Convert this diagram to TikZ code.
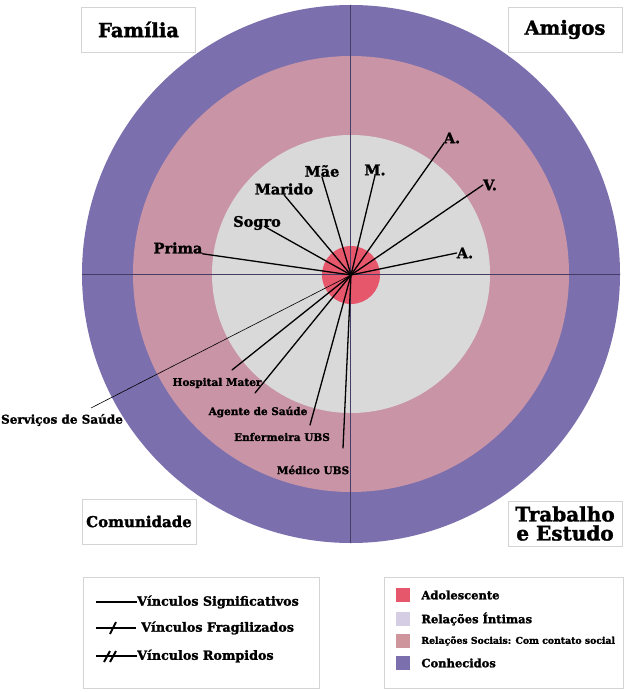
\documentclass[tikz,border=0pt]{standalone}
\usepackage{fontspec}
\setmainfont{DejaVu Serif}[BoldFeatures={FakeBold=1.6}]
\usetikzlibrary{positioning,calc}
\definecolor{conhec}{RGB}{123,111,174}
\definecolor{social}{RGB}{201,148,166}
\definecolor{intima}{RGB}{217,217,217}
\definecolor{adolesc}{RGB}{231,87,108}
\definecolor{intimaleg}{RGB}{212,205,228}
\definecolor{socialleg}{RGB}{206,150,156}
\definecolor{boxline}{RGB}{212,212,212}
\definecolor{axisline}{RGB}{70,60,100}

\begin{document}
\begin{tikzpicture}[x=1pt, y=-1pt,
    every node/.style={font=\bfseries},
    ring/.style={circle, inner sep=0pt, draw=none},
    zone/.style={rectangle, draw=boxline, fill=white, line width=0.8pt,
                 minimum width=114pt, minimum height=45pt, align=center,
                 font=\fontsize{19.5}{19}\selectfont\bfseries},
    pessoa/.style={inner sep=0pt, font=\fontsize{14.5}{16}\selectfont\bfseries},
    servico/.style={inner sep=0pt, font=\fontsize{10.5}{12}\selectfont\bfseries},
    vinc/.style={line width=1.3pt, line cap=round},
    fraco/.style={line width=0.6pt},
    eixo/.style={line width=0.6pt, draw=axisline},
    legbox/.style={rectangle, draw=boxline, fill=white, line width=0.8pt,
                   minimum height=111pt},
    legtxt/.style={inner sep=0pt, anchor=west, font=\fontsize{11.5}{13}\selectfont\bfseries},
    legline/.style={line width=2pt},
    swatch/.style={rectangle, inner sep=0pt, minimum size=14pt},
]

\useasboundingbox[fill=white] (0,0) rectangle (628,692);

% Circles
\node[ring, fill=conhec,  minimum size=538pt] (outer)  at (351,274) {};
\node[ring, fill=social,  minimum size=436pt] (middle) at (351,274) {};
\node[ring, fill=intima,  minimum size=278pt] (inner)  at (351,274) {};
\node[ring, fill=adolesc, minimum size=58pt]  (ego)    at (351,275) {};

\draw[eixo] (outer.west) -- (outer.east);
\draw[eixo] ([xshift=-1pt]outer.north) -- ([xshift=-1pt]outer.south);

% Quadrants
\node[zone] (familia)    at (138.5,29.5) {Família};
\node[zone] (amigos)     at (565,29.5)   {Amigos};
\node[zone, font=\fontsize{15}{17}\selectfont\bfseries] (comunidade) at (139,521.5) {Comunidade};
\node[zone, font=\fontsize{20}{19}\selectfont\bfseries] (trabalho)   at (565,523.5) {Trabalho\\e Estudo};

% People
\node[pessoa] (prima)  at (178,248) {Prima};
\node[pessoa] (sogro)  at (257,223) {Sogro};
\node[pessoa] (marido) at (284,189) {Marido};
\node[pessoa] (mae)    at (322,171) {Mãe};
\node[pessoa] (mtia)   at (375,170) {M.};
\node[pessoa] (amigoA) at (452,138) {A.};
\node[pessoa] (amigoV) at (490,185) {V.};
\node[pessoa] (amigoB) at (465,253) {A.};

\node[servico] (hospital) at (217,383) {Hospital Mater};
\node[servico] (agente)   at (258,412) {Agente de Saúde};
\node[servico] (enferm)   at (282,437) {Enfermeira UBS};
\node[servico] (medico)   at (313,470) {Médico UBS};
\node[servico, font=\fontsize{12}{13}\selectfont\bfseries] (servicos) at (62,420) {Serviços de Saúde};

\coordinate (fimHospital) at (232,370);
\coordinate (fimAgente)   at (255,393);
\coordinate (fimEnferm)   at (310,425);
\coordinate (fimMedico)   at (343,448);
\coordinate (fimServicos) at (91,408);

% Links
\draw[vinc] (ego.center) -- (prima.south east);
\draw[vinc] (ego.center) -- ([xshift=8pt]sogro.base);
\draw[vinc] (ego.center) -- (marido.south);
\draw[vinc] (ego.center) -- (mae.south);
\draw[vinc] (ego.center) -- (mtia.south);
\draw[vinc] (ego.center) -- (amigoA.south west);
\draw[vinc] (ego.center) -- (amigoV.west);
\draw[vinc] (ego.center) -- (amigoB.west);
\draw[vinc] (ego.center) -- (fimHospital);
\draw[vinc] (ego.center) -- (fimAgente);
\draw[vinc] (ego.center) -- (fimEnferm);
\draw[vinc] (ego.center) -- (fimMedico);
\draw[fraco] (ego.center) -- (fimServicos);

% Legend: links
\node[legbox, minimum width=236pt] (legVinc) at (201,632.5) {};
\node[legtxt, font=\fontsize{12.7}{14}\selectfont\bfseries] (signif) at (137,602) {Vínculos Significativos};
\node[legtxt, font=\fontsize{12.7}{14}\selectfont\bfseries] (fragil) at (141,628) {Vínculos Fragilizados};
\node[legtxt, font=\fontsize{12.7}{14}\selectfont\bfseries] (rompid) at (137,656) {Vínculos Rompidos};
\draw[legline] (96,602) -- (signif.west);
\draw[legline] (96,628) -- ([xshift=-5pt]fragil.west);
\draw[legline] ($(fragil.west)+(-31,6)$) -- ($(fragil.west)+(-25,-6)$);
\draw[legline] (96,656) -- (rompid.west);
\draw[legline] ($(rompid.west)+(-33,6)$) -- ($(rompid.west)+(-27,-5)$);
\draw[legline] ($(rompid.west)+(-27,6)$) -- ($(rompid.west)+(-21,-5)$);

% Legend: circles
\node[legbox, minimum width=239pt] (legCirc) at (503.5,632.5) {};
\node[swatch, fill=adolesc]   (swAdol) at (403,595) {};
\node[swatch, fill=intimaleg] (swInt)  at (403,619) {};
\node[swatch, fill=socialleg] (swSoc)  at (403,641) {};
\node[swatch, fill=conhec]    (swCon)  at (403,663) {};
\node[legtxt, right=11pt of swAdol] (txAdol) {Adolescente};
\node[legtxt, right=11pt of swInt]  (txInt)  {Relações Íntimas};
\node[legtxt, right=11pt of swSoc, font=\fontsize{9.3}{11}\selectfont\bfseries] (txSoc) {Relações Sociais: Com contato social};
\node[legtxt, right=11pt of swCon]  (txCon)  {Conhecidos};

\end{tikzpicture}
\end{document}
